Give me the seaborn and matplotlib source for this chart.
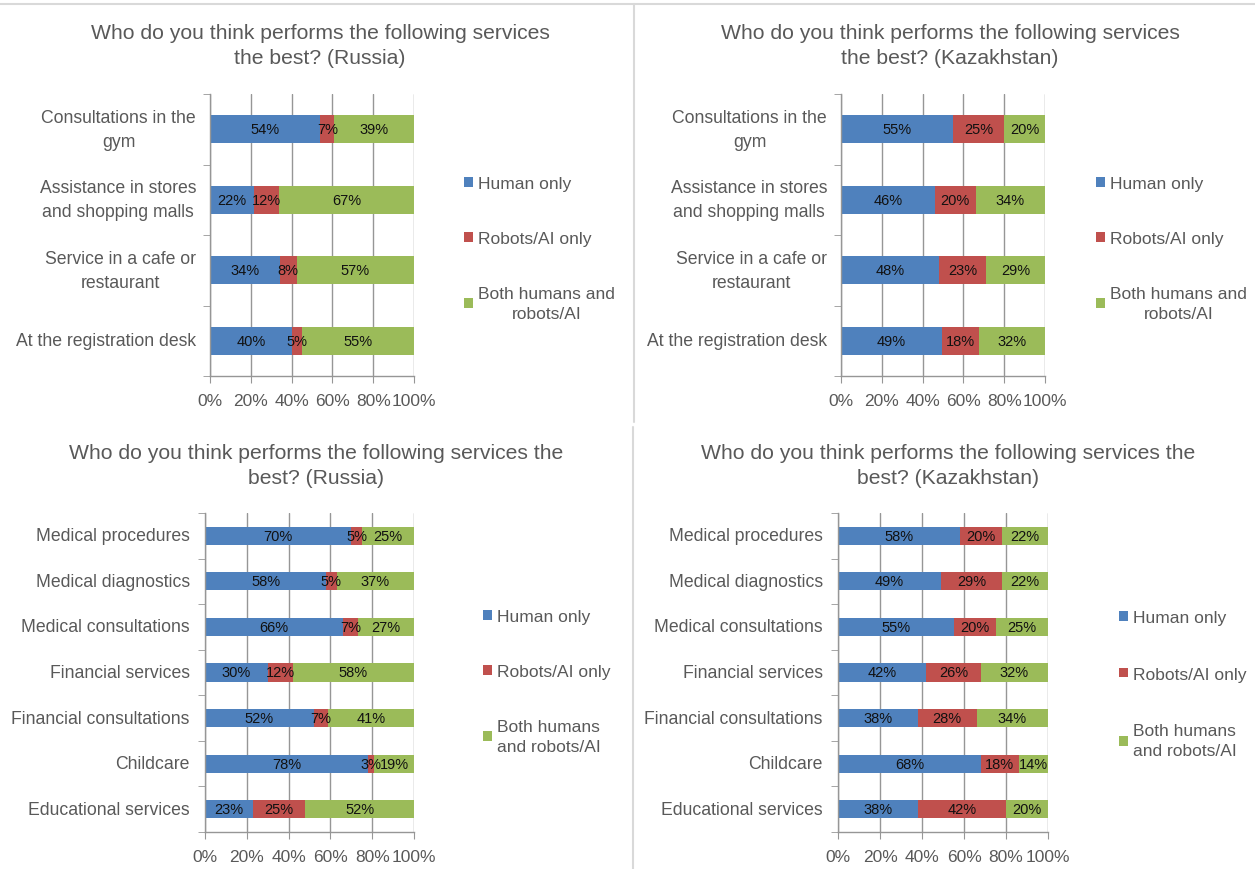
import matplotlib
matplotlib.use("Agg")
import matplotlib.pyplot as plt
import seaborn as sns
import numpy as np
import pandas as pd
from matplotlib.patches import Patch
from matplotlib.lines import Line2D

sns.set_style("white")
plt.rcParams['font.family'] = ['Liberation Sans', 'DejaVu Sans']

# ---------------- data ----------------
series_names = ["Human only", "Robots/AI only", "Both humans and robots/AI"]
colors = ["#4F81BD", "#C0504D", "#9BBB59"]

top_categories = ["Consultations in the\ngym",
                  "Assistance in stores\nand shopping malls",
                  "Service in a cafe or\nrestaurant",
                  "At the registration desk"]
ru_top_human = [54, 22, 34, 40]
ru_top_robot = [7, 12, 8, 5]
ru_top_both = [39, 67, 57, 55]
kz_top_human = [55, 46, 48, 49]
kz_top_robot = [25, 20, 23, 18]
kz_top_both = [20, 34, 29, 32]

bottom_categories = ["Medical procedures", "Medical diagnostics",
                     "Medical consultations", "Financial services",
                     "Financial consultations", "Childcare",
                     "Educational services"]
ru_bot_human = [70, 58, 66, 30, 52, 78, 23]
ru_bot_robot = [5, 5, 7, 12, 7, 3, 25]
ru_bot_both = [25, 37, 27, 58, 41, 19, 52]
kz_bot_human = [58, 49, 55, 42, 38, 68, 38]
kz_bot_robot = [20, 29, 20, 26, 28, 18, 42]
kz_bot_both = [22, 22, 25, 32, 34, 14, 20]

x_ticks = [0, 20, 40, 60, 80, 100]
x_tick_labels = ["0%", "20%", "40%", "60%", "80%", "100%"]

title_top_ru = "Who do you think performs the following services\nthe best? (Russia)"
title_top_kz = "Who do you think performs the following services\nthe best? (Kazakhstan)"
title_bot_ru = "Who do you think performs the following services the\nbest? (Russia)"
title_bot_kz = "Who do you think performs the following services the\nbest? (Kazakhstan)"

# ---------------- layout ----------------
W, H = 1255, 870
fig = plt.figure(figsize=(W / 100, H / 100), dpi=100)
fig.patch.set_facecolor("white")

GREY_TXT = "#595959"
GRID = "#969696"


def px_axes(x0, y0, x1, y1):
    return fig.add_axes([x0 / W, 1 - y1 / H, (x1 - x0) / W, (y1 - y0) / H])


def draw_panel(ax, cats, human, robot, both, ypad):
    h = np.array(human, float)
    r = np.array(robot, float)
    b = np.array(both, float)
    tot = h + r + b
    # 100% stacked: shares of each row total
    hs, rs, bs = h / tot * 100, r / tot * 100, b / tot * 100
    df = pd.DataFrame({"cat": cats, "c1": hs, "c2": hs + rs, "c3": hs + rs + bs})
    for col, colr in zip(["c3", "c2", "c1"], colors[::-1]):
        sns.barplot(data=df, x=col, y="cat", color=colr, saturation=1,
                    width=0.4, errorbar=None, orient="h", ax=ax,
                    linewidth=0)
    # data labels (raw values)
    for i in range(len(cats)):
        starts = [0, hs[i], hs[i] + rs[i]]
        for s, w, v in zip(starts, [hs[i], rs[i], bs[i]], [h[i], r[i], b[i]]):
            ax.text(s + w / 2, i, f"{int(v)}%", ha="center", va="center",
                    fontsize=10.5, color="#111111")
    ax.set_xlim(0, 100)
    ax.set_ylim(len(cats) - 0.5, -0.5)
    ax.set_xlabel("")
    ax.set_ylabel("")
    ax.set_xticks(x_ticks)
    ax.set_xticklabels(x_tick_labels, fontsize=12.5, color=GREY_TXT)
    ax.set_yticks(range(len(cats)))
    ax.set_yticklabels(cats, fontsize=12.7, color=GREY_TXT, ha="right",
                       multialignment="center", linespacing=1.55)
    for t in ax.get_yticklabels():
        t.set_verticalalignment("center")
    ax.set_yticks(np.arange(-0.5, len(cats), 1.0), minor=True)
    ax.tick_params(axis="y", which="major", length=0, pad=ypad)
    ax.tick_params(axis="y", which="minor", length=5, color=GRID,
                   direction="out", left=True)
    ax.tick_params(axis="x", which="major", length=5, color=GRID,
                   direction="out", bottom=True, pad=7)
    ax.xaxis.grid(True, color=GRID, lw=1)
    ax.yaxis.grid(False)
    ax.set_axisbelow(True)
    for sp in ["top", "right"]:
        ax.spines[sp].set_visible(False)
    for sp in ["left", "bottom"]:
        ax.spines[sp].set_visible(True)
        ax.spines[sp].set_color(GRID)
        ax.spines[sp].set_linewidth(1)


def add_legend(ax, x, y, labels, center_multi, spacing):
    handles = [Patch(facecolor=c, edgecolor="none") for c in colors]
    leg = ax.legend(handles, labels, loc="upper left",
                    bbox_to_anchor=(x / W, 1 - y / H),
                    bbox_transform=fig.transFigure, frameon=False,
                    fontsize=12.5, labelcolor=GREY_TXT, handlelength=0.5,
                    handleheight=0.5, handletextpad=0.3, labelspacing=spacing,
                    borderpad=0, borderaxespad=0)
    for t in leg.get_texts():
        t.set_linespacing(1.4)
        if center_multi:
            t.set_multialignment("center")
    return leg


axes_specs = [
    ((210, 95, 414, 377), top_categories, ru_top_human, ru_top_robot, ru_top_both,
     title_top_ru, (320, 46), (464, 177), "Both humans and\nrobots/AI", True, 2.3, 10),
    ((841, 95, 1045, 377), top_categories, kz_top_human, kz_top_robot, kz_top_both,
     title_top_kz, (950, 46), (1096, 177), "Both humans and\nrobots/AI", True, 2.3, 10),
    ((205, 514, 414, 833), bottom_categories, ru_bot_human, ru_bot_robot, ru_bot_both,
     title_bot_ru, (316, 466), (483, 610), "Both humans\nand robots/AI", False, 2.3, 11),
    ((838, 514, 1048, 833), bottom_categories, kz_bot_human, kz_bot_robot, kz_bot_both,
     title_bot_kz, (948, 466), (1119, 611), "Both humans\nand robots/AI", False, 2.4, 11),
]

for box, cats, hh, rr, bb, title, tpos, lpos, both_label, cm, sp, ypad in axes_specs:
    ax = px_axes(*box)
    draw_panel(ax, cats, hh, rr, bb, ypad)
    fig.text(tpos[0] / W, 1 - tpos[1] / H, title, ha="center", va="center",
             fontsize=15.2, color=GREY_TXT, linespacing=1.42)
    add_legend(ax, lpos[0], lpos[1], [series_names[0], series_names[1], both_label], cm, sp)

# panel separators
sep = "#d9d9d9"
fig.add_artist(Line2D([0, 1], [1 - 5 / H, 1 - 5 / H], transform=fig.transFigure,
                      color=sep, lw=1.5))
fig.add_artist(Line2D([634 / W, 634 / W], [1 - 5 / H, 1 - 423 / H],
                      transform=fig.transFigure, color=sep, lw=1.5))
fig.add_artist(Line2D([633 / W, 633 / W], [1 - 428 / H, 0],
                      transform=fig.transFigure, color=sep, lw=1.5))

fig.savefig("out.png", dpi=100, facecolor="white")
